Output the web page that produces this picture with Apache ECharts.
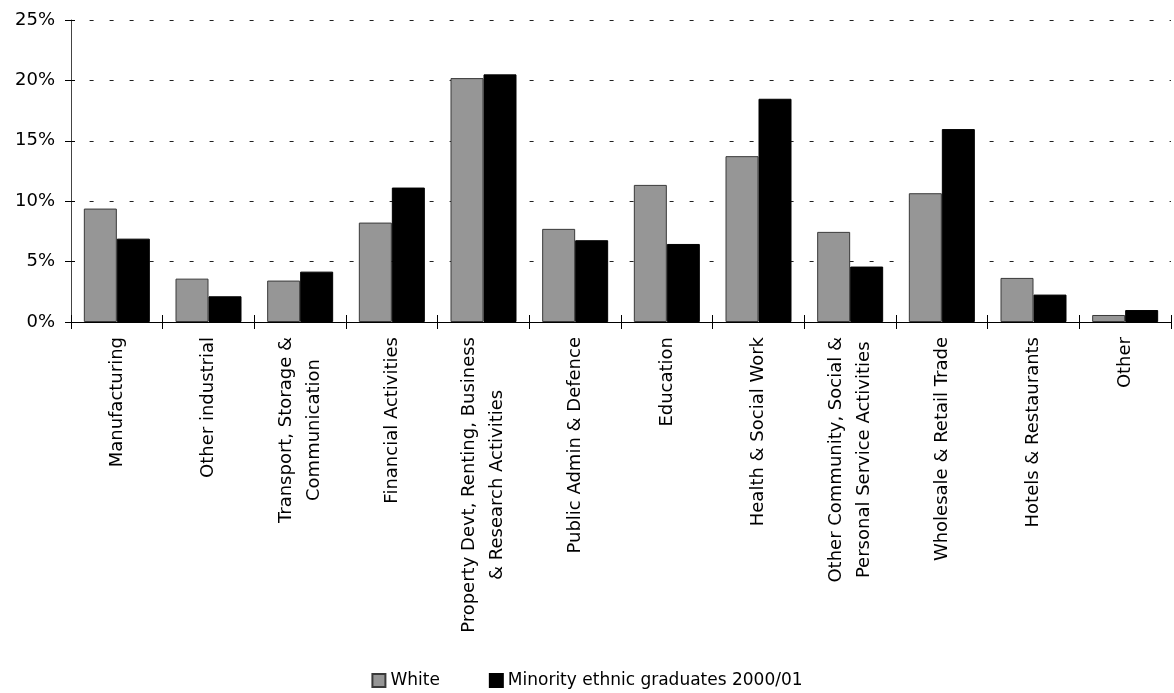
<!DOCTYPE html>
<html>
<head>
<meta charset="utf-8">
<script src="https://cdn.jsdelivr.net/npm/echarts@6/dist/echarts.min.js"></script>
<style>
  html, body { margin: 0; padding: 0; background: #fff; }
  #chart { width: 1174px; height: 693px; }
</style>
</head>
<body>
<div id="chart"></div>
<script>
const categories = [
  'Manufacturing',
  'Other industrial',
  'Transport, Storage &\nCommunication',
  'Financial Activities',
  'Property Devt, Renting, Business\n& Research Activities',
  'Public Admin & Defence',
  'Education',
  'Health & Social Work',
  'Other Community, Social &\nPersonal Service Activities',
  'Wholesale & Retail Trade',
  'Hotels & Restaurants',
  'Other'
];
const seriesNames = ['White', 'Minority ethnic graduates 2000/01'];
const whiteValues = [9.39, 3.59, 3.43, 8.23, 20.19, 7.71, 11.35, 13.73, 7.46, 10.66, 3.65, 0.58];
const minorityValues = [6.90, 2.13, 4.17, 11.13, 20.50, 6.77, 6.46, 18.48, 4.59, 15.97, 2.27, 0.99];
const yTicks = [0, 5, 10, 15, 20, 25];

const FONT = 'DejaVu Sans';
const chart = echarts.init(document.getElementById('chart'), null, { renderer: 'canvas' });

const option = {
  animation: false,
  backgroundColor: '#ffffff',
  textStyle: { fontFamily: FONT, color: '#000' },
  grid: { left: 71, right: 3, top: 20, bottom: 371, containLabel: false },
  legend: {
    top: 667,
    left: 'center',
    itemWidth: 13,
    itemHeight: 13,
    itemGap: 49,
    icon: 'rect',
    textStyle: { fontFamily: FONT, fontSize: 17, color: '#000' },
    data: seriesNames
  },
  xAxis: [
    {
      type: 'category',
      data: categories,
      position: 'bottom',
      boundaryGap: true,
      axisLine: { show: true, lineStyle: { color: '#000', width: 1 } },
      axisTick: { show: true, interval: 0, length: 7, lineStyle: { color: '#000' } },
      axisLabel: {
        interval: 0,
        rotate: 90,
        margin: 15,
        fontFamily: FONT,
        fontSize: 18,
        color: '#000',
        formatter: function (v) {
          return v.split('\n').map(function (s) { return '{c|' + s + '}'; }).join('\n');
        },
        rich: {
          c: { align: 'center', fontFamily: FONT, fontSize: 18, lineHeight: 28, color: '#000' }
        }
      },
      splitLine: { show: false }
    },
    {
      type: 'category',
      data: categories,
      position: 'bottom',
      boundaryGap: true,
      axisLine: { show: false },
      axisTick: { show: true, interval: 0, inside: true, length: 7, lineStyle: { color: '#000' } },
      axisLabel: { show: false, interval: 0 },
      splitLine: { show: false }
    }
  ],
  yAxis: [
    {
      type: 'value',
      min: 0,
      max: 25,
      interval: 5,
      position: 'left',
      axisLine: { show: true, lineStyle: { color: '#444', width: 1 } },
      axisTick: { show: true, length: 6, lineStyle: { color: '#000' } },
      axisLabel: {
        margin: 16,
        fontFamily: FONT,
        fontSize: 18,
        color: '#000',
        formatter: function (v) { return yTicks.indexOf(v) >= 0 ? v + '%' : ''; }
      },
      splitLine: {
        show: true,
        lineStyle: { color: '#222', width: 1, type: [4, 16], dashOffset: 1.4 }
      }
    },
    {
      type: 'value',
      min: 0,
      max: 25,
      interval: 5,
      position: 'left',
      axisLine: { show: false },
      axisTick: { show: true, inside: true, length: 4, lineStyle: { color: '#000' } },
      axisLabel: { show: false },
      splitLine: { show: false }
    }
  ],
  series: [
    {
      name: seriesNames[0],
      type: 'bar',
      xAxisIndex: 0,
      yAxisIndex: 0,
      data: whiteValues,
      barGap: '0%',
      barCategoryGap: '28%',
      itemStyle: { color: '#969696', borderColor: '#3a3a3a', borderWidth: 1 }
    },
    {
      name: seriesNames[1],
      type: 'bar',
      xAxisIndex: 0,
      yAxisIndex: 0,
      data: minorityValues,
      barGap: '0%',
      barCategoryGap: '28%',
      itemStyle: { color: '#000000', borderColor: '#000000', borderWidth: 1 }
    }
  ]
};
chart.setOption(option);
</script>
</body>
</html>
